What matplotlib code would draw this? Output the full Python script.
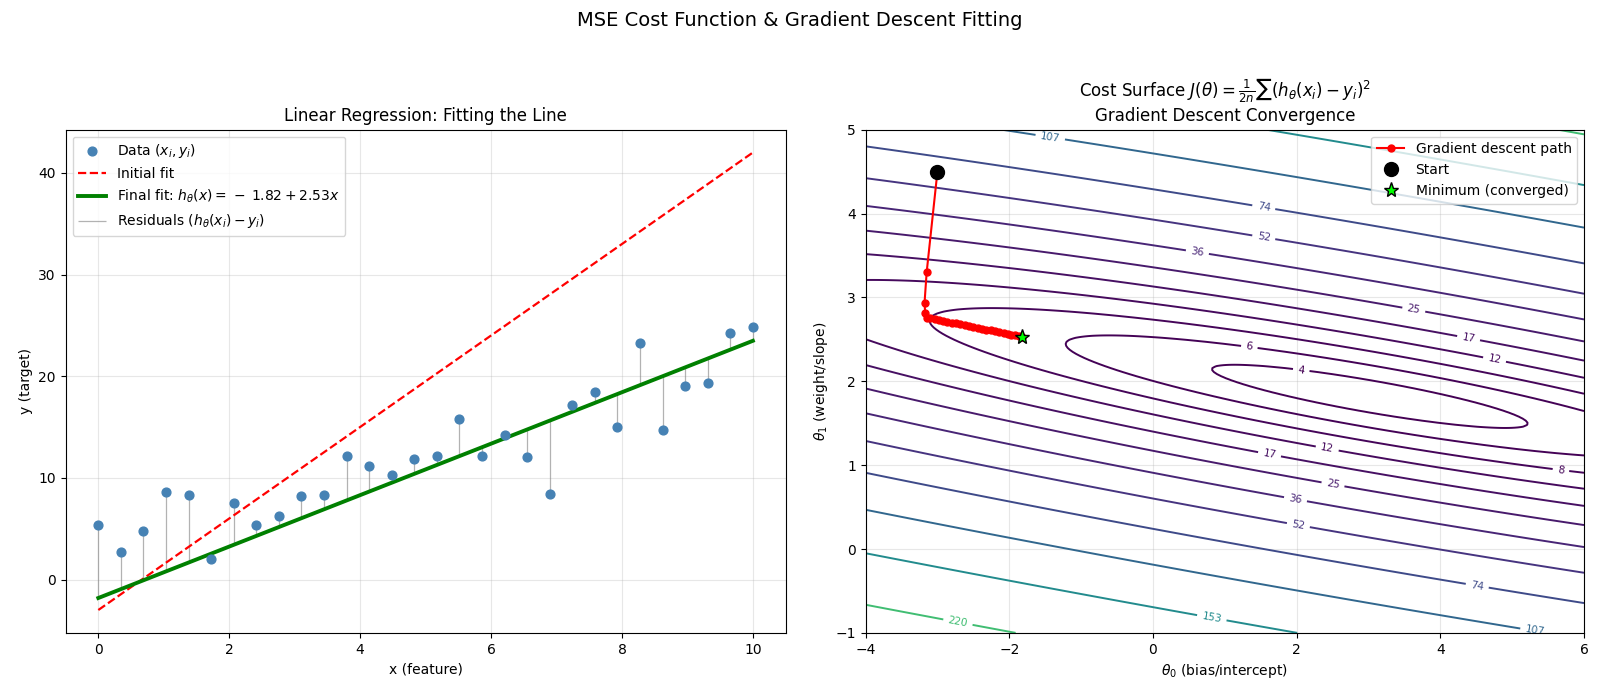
import numpy as np
import matplotlib
matplotlib.use('Agg')
import matplotlib.pyplot as plt

# data (30 points, x evenly spaced 0..10)
x_data = np.linspace(0, 10, 30)
y_data = [5.41, 2.66, 4.81, 8.64, 8.34, 1.99, 7.50, 5.41, 6.25, 8.17,
          8.27, 12.18, 11.12, 10.29, 11.82, 12.18, 15.81, 12.18, 14.21, 12.02,
          8.37, 17.16, 18.40, 15.04, 23.28, 14.67, 19.05, 19.29, 24.23, 24.80]
y_data = np.array(y_data)

theta_init = [-3.0, 4.5]      # initial fit / start point
theta_final = [-1.82, 2.53]   # final fit / converged point

# gradient descent path
path_t0 = [-3.00, -3.15, -3.18, -3.17, -3.15, -3.10, -3.04, -2.98, -2.92, -2.86,
           -2.80, -2.74, -2.68, -2.62, -2.56, -2.50, -2.44, -2.38, -2.32, -2.26,
           -2.20, -2.14, -2.08, -2.02, -1.97, -1.92, -1.87, -1.82]
path_t1 = [4.50, 3.30, 2.93, 2.81, 2.76, 2.751, 2.741, 2.731, 2.720, 2.710,
           2.699, 2.689, 2.679, 2.668, 2.658, 2.648, 2.637, 2.627, 2.616, 2.606,
           2.596, 2.585, 2.575, 2.565, 2.556, 2.547, 2.539, 2.530]

# contour levels (labels on the chart: 4, 6, 8, 12, ... 220)
levels = [4.15, 5.87, 8.45, 12.1, 17.4, 25.0, 35.9, 51.6, 74.2, 106.6, 153.1, 220.0, 316.0]

# contour labels as placed on the chart: level index and (theta0, theta1)
label_idx = [9, 8, 7, 6, 5, 4, 3, 1, 0, 4, 3, 2, 5, 6, 7, 8, 9, 10, 11]
label_pos = [(-1.41, 4.93), (1.53, 3.91), (1.51, 3.48), (0.58, 3.30), (3.58, 2.56),
             (4.36, 2.33), (4.70, 1.96), (1.34, 2.44), (2.05, 2.15), (1.62, 1.20),
             (2.43, 1.22), (5.69, 0.98), (2.51, 0.79), (2.01, 0.68), (2.03, 0.37),
             (4.53, -0.42), (5.36, -0.83), (0.86, -0.61), (-2.69, -0.83)]

fig = plt.figure(figsize=(16, 6.97), dpi=100)
ax1 = fig.add_axes([0.041, 0.092, 0.450, 0.722])
ax2 = fig.add_axes([0.541, 0.092, 0.449, 0.722])
fig.suptitle('MSE Cost Function & Gradient Descent Fitting', fontsize=14, y=0.984)

# ---- left: data and fitted lines
x_line = np.array([x_data[0], x_data[-1]])
y_final_pts = theta_final[0] + theta_final[1] * x_data
ax1.vlines(x_data, y_final_pts, y_data, colors='gray', linewidth=0.9, alpha=0.6,
           label=r'Residuals $(h_\theta(x_i) - y_i)$')
ax1.plot(x_line, theta_init[0] + theta_init[1] * x_line, 'r--', linewidth=1.6,
         label='Initial fit')
ax1.plot(x_line, theta_final[0] + theta_final[1] * x_line, color='green', linewidth=2.8,
         label=r'Final fit: $h_\theta(x) =\,-\:%.2f + %.2fx$' % (abs(theta_final[0]), theta_final[1]))
ax1.scatter(x_data, y_data, s=40, color='steelblue', zorder=5, label=r'Data $(x_i, y_i)$')
handles, labels = ax1.get_legend_handles_labels()
order = [3, 1, 2, 0]
ax1.legend([handles[i] for i in order], [labels[i] for i in order], loc='upper left', fontsize=10)
ax1.set_xlabel('x (feature)')
ax1.set_ylabel('y (target)')
ax1.set_title('Linear Regression: Fitting the Line', fontsize=12)
ax1.grid(True, alpha=0.3)

# ---- right: cost surface
t0 = np.linspace(-4, 6, 250)
t1 = np.linspace(-1, 5, 250)
T0, T1 = np.meshgrid(t0, t1)
n = len(x_data)
err = T0[..., None] + T1[..., None] * x_data - y_data
J = (err ** 2).sum(axis=-1) / (2 * n)

ax2.set_xlim(-4, 6)
ax2.set_ylim(-1, 5)
cs = ax2.contour(T0, T1, J, levels=levels, cmap='viridis', linewidths=1.4)

# snap each label spot onto its own contour line so clabel picks the right level
snapped = []
for i, pos in zip(label_idx, label_pos):
    verts = cs.get_paths()[i].vertices
    pix = ax2.transData.transform(verts)
    p = ax2.transData.transform([pos])[0]
    k = np.argmin(((pix - p) ** 2).sum(axis=1))
    snapped.append(tuple(verts[k]))
ax2.clabel(cs, inline=True, fontsize=7.5, fmt='%.0f', manual=snapped)

ax2.plot(path_t0, path_t1, 'r-o', markersize=5, linewidth=1.5, label='Gradient descent path')
ax2.plot(path_t0[0], path_t1[0], 'ko', markersize=10, label='Start', linestyle='none')
ax2.plot(theta_final[0], theta_final[1], '*', color='lime', markeredgecolor='black',
         markersize=11, label='Minimum (converged)', linestyle='none')
ax2.set_xlim(-4, 6)
ax2.set_ylim(-1, 5)
ax2.set_xlabel(r'$\theta_0$ (bias/intercept)')
ax2.set_ylabel(r'$\theta_1$ (weight/slope)')
ax2.set_title('Cost Surface $J(\\theta) = \\frac{1}{2n}\\sum(h_\\theta(x_i) - y_i)^2$\n'
              'Gradient Descent Convergence', fontsize=12)
ax2.legend(loc='upper right', fontsize=10)
ax2.grid(True, alpha=0.3)

fig.savefig('out.png', dpi=100)
